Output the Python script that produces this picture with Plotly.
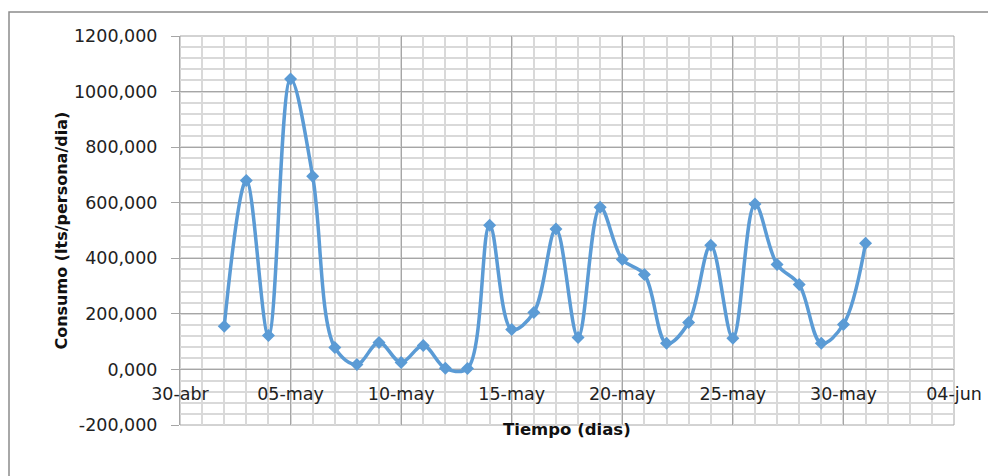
#%% [Libraries]
import pandas as pd
import plotly.graph_objects as go

#%% [Data]
dias = pd.date_range("2015-05-02", "2015-05-31", freq="D")
consumo = [155, 680, 122, 1045, 695, 79, 18, 97, 25, 86, 4, 3,
           519, 144, 205, 505, 115, 584, 396, 342, 94, 169, 447, 112,
           595, 378, 306, 94, 162, 454]

x_ticks = pd.date_range("2015-04-30", "2015-06-04", freq="5D")
x_labels = ["30-abr", "05-may", "10-may", "15-may", "20-may", "25-may", "30-may", "04-jun"]
y_ticks = [-200, 0, 200, 400, 600, 800, 1000, 1200]
y_labels = [f"{v:.3f}".replace(".", ",") for v in y_ticks]

azul = "#5B9BD5"
gris_major = "#a6a6a6"
gris_minor = "#d9d9d9"
fuente = "DejaVu Sans"

#%% [Figure]
fig = go.Figure()
fig.add_traces(
    go.Scatter(
        x = dias,
        y = consumo,
        mode = "lines+markers",
        line = dict(color = azul, width = 3.5, shape = "spline", smoothing = 1),
        marker = dict(symbol = "diamond", size = 10, color = azul),
        showlegend = False,
    )
)

fig.update_xaxes(
    type = "date",
    range = [x_ticks[0], x_ticks[-1]],
    tickmode = "array",
    tickvals = x_ticks,
    ticktext = x_labels,
    anchor = "free",
    position = 200 / 1400,
    automargin = False,
    showline = False,
    ticks = "",
    ticklabelstandoff = 12,
    showgrid = True,
    gridcolor = gris_major,
    gridwidth = 1,
    zeroline = False,
    minor = dict(dtick = 86400000, tick0 = "2015-04-30", showgrid = True,
                 gridcolor = gris_minor, gridwidth = 1.5),
    tickfont = dict(family = fuente, size = 17.5, color = "#222222"),
)

fig.update_yaxes(
    range = [-200, 1200],
    tickmode = "array",
    tickvals = y_ticks,
    ticktext = y_labels,
    automargin = False,
    showline = True,
    linecolor = gris_major,
    linewidth = 1,
    ticks = "outside",
    ticklen = 8,
    tickcolor = gris_major,
    ticklabelstandoff = 10,
    showgrid = True,
    gridcolor = gris_major,
    gridwidth = 1,
    zeroline = False,
    minor = dict(dtick = 40, tick0 = 0, showgrid = True,
                 gridcolor = gris_minor, gridwidth = 1.5),
    tickfont = dict(family = fuente, size = 17.5, color = "#222222"),
)

fig.add_annotation(text = "<b>Tiempo (dias)</b>", xref = "paper", yref = "paper",
                   x = 0.5, y = -0.041, showarrow = False,
                   font = dict(family = fuente, size = 16.5, color = "#111111"))
fig.add_annotation(text = "<b>Consumo (lts/persona/dia)</b>", xref = "paper", yref = "paper",
                   x = -0.168, y = 0.501, textangle = -90, showarrow = False,
                   font = dict(family = fuente, size = 16, color = "#111111"))

# marco exterior del grafico (sale por la derecha y por abajo)
fig.add_shape(type = "rect", xref = "paper", yref = "paper",
              x0 = (1 - 172) / 774, x1 = 1.2, y0 = -0.3, y1 = (417 - 4) / 389,
              line = dict(color = "#8c8c8c", width = 1.5), layer = "below")
# borde del area de trazado
fig.add_shape(type = "rect", xref = "paper", yref = "paper",
              x0 = 0, x1 = 1, y0 = 0, y1 = 1,
              line = dict(color = gris_major, width = 1), layer = "below")

# la pagina deja 8 px de margen arriba/izquierda
fig.update_layout(
    width = 988,
    height = 468,
    margin = dict(l = 172, r = 42, t = 28, b = 51),
    plot_bgcolor = "white",
    paper_bgcolor = "white",
)

fig.write_html("out.html")
